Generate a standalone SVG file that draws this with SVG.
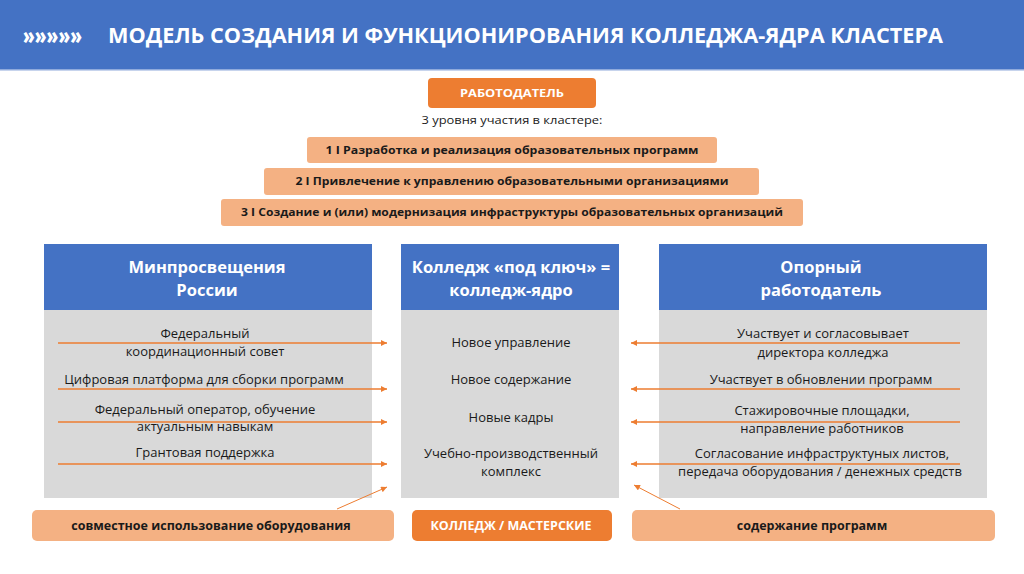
<svg xmlns="http://www.w3.org/2000/svg" width="1024" height="574" viewBox="0 0 1024 574">
<style>
.t{font-family:"Open Sans","Noto Sans","DejaVu Sans",sans-serif;}
.body{font-family:"Open Sans","Noto Sans","DejaVu Sans",sans-serif;font-size:13px;fill:#1a1a1a;text-anchor:middle;}
.hdr{font-family:"Open Sans","Noto Sans","DejaVu Sans",sans-serif;font-size:16.5px;font-weight:700;fill:#ffffff;text-anchor:middle;}
.lvl{font-family:"Open Sans","Noto Sans","DejaVu Sans",sans-serif;font-size:11px;font-weight:700;fill:#1a1a1a;text-anchor:middle;}
.bot{font-family:"Open Sans","Noto Sans","DejaVu Sans",sans-serif;font-size:12.5px;font-weight:700;fill:#1a1a1a;text-anchor:middle;}
.blue{fill:#4472C4;}
.gray{fill:#D9D9D9;}
.org{fill:#ED7D31;}
.lorg{fill:#F4B183;}
.arr{stroke:#ED7D31;stroke-width:1.3;fill:none;marker-end:url(#ah);}
.arrd{stroke:#ED7D31;stroke-width:1;fill:none;marker-end:url(#ah);}
</style>
<defs>
<marker id="ah" viewBox="0 0 10 10" refX="10" refY="5" markerWidth="7" markerHeight="6" markerUnits="userSpaceOnUse" orient="auto">
<path d="M0,0 L10,5 L0,10 z" fill="#ED7D31"/>
</marker>
</defs>
<rect width="1024" height="574" fill="#ffffff"/>
<g id="header">
<rect x="0" y="0" width="1024" height="70" class="blue"/>
<rect x="0" y="69" width="1024" height="1.5" fill="#8FAADC"/>
<text x="23" y="44" class="t" font-size="22" font-weight="800" fill="#ffffff" textLength="59" lengthAdjust="spacingAndGlyphs">»»»»»</text>
<text x="108" y="43" class="t" font-size="21" font-weight="700" fill="#ffffff" textLength="835" lengthAdjust="spacingAndGlyphs">МОДЕЛЬ СОЗДАНИЯ И ФУНКЦИОНИРОВАНИЯ КОЛЛЕДЖА-ЯДРА КЛАСТЕРА</text>
</g>
<g id="employer">
<rect x="428" y="78" width="168" height="30" rx="4" class="org"/>
<text x="512" y="97" class="t" font-size="11" font-weight="700" fill="#ffffff" text-anchor="middle" textLength="104" lengthAdjust="spacingAndGlyphs">РАБОТОДАТЕЛЬ</text>
</g>
<text x="512" y="124" class="t" font-size="11.5" fill="#1a1a1a" text-anchor="middle" textLength="181" lengthAdjust="spacingAndGlyphs">3 уровня участия в кластере:</text>
<g id="level1">
<rect x="307" y="137" width="410" height="26" rx="3" class="lorg"/>
<text x="512" y="154" class="lvl" textLength="373" lengthAdjust="spacingAndGlyphs">1 I  Разработка и реализация образовательных программ</text>
</g>
<g id="level2">
<rect x="264" y="168" width="495" height="27" rx="3" class="lorg"/>
<text x="512" y="185" class="lvl" textLength="433" lengthAdjust="spacingAndGlyphs">2 I Привлечение к управлению образовательными организациями</text>
</g>
<g id="level3">
<rect x="221" y="199" width="582" height="27" rx="3" class="lorg"/>
<text x="512" y="216" class="lvl" textLength="542" lengthAdjust="spacingAndGlyphs">3 I Создание и (или) модернизация инфраструктуры образовательных организаций</text>
</g>
<g id="ministry">
<rect x="44" y="244" width="328" height="66" class="blue"/>
<rect x="44" y="310" width="328" height="188" class="gray"/>
<text x="207" y="273" class="hdr">Минпросвещения</text>
<text x="207" y="296" class="hdr">России</text>
<text x="205" y="338" class="body">Федеральный</text>
<text x="205" y="356" class="body">координационный совет</text>
<text x="204" y="384" class="body">Цифровая платформа для сборки программ</text>
<text x="205" y="414" class="body">Федеральный оператор, обучение</text>
<text x="205" y="431" class="body">актуальным навыкам</text>
<text x="205" y="457" class="body">Грантовая поддержка</text>
</g>
<g id="college">
<rect x="401" y="244" width="218" height="66" class="blue"/>
<rect x="401" y="310" width="218" height="188" class="gray"/>
<text x="511" y="273" class="hdr">Колледж «под ключ» =</text>
<text x="511" y="296" class="hdr">колледж-ядро</text>
<text x="511" y="347" class="body">Новое управление</text>
<text x="511" y="384" class="body">Новое содержание</text>
<text x="511" y="422" class="body">Новые кадры</text>
<text x="511" y="458" class="body">Учебно-производственный</text>
<text x="511" y="476" class="body">комплекс</text>
</g>
<g id="partner">
<rect x="659" y="244" width="328" height="66" class="blue"/>
<rect x="659" y="310" width="328" height="188" class="gray"/>
<text x="821" y="273" class="hdr">Опорный</text>
<text x="821" y="296" class="hdr">работодатель</text>
<text x="823" y="338" class="body">Участвует и согласовывает</text>
<text x="823" y="357" class="body">директора колледжа</text>
<text x="821" y="384" class="body">Участвует в обновлении программ</text>
<text x="822" y="415" class="body">Стажировочные площадки,</text>
<text x="822" y="433" class="body">направление работников</text>
<text x="822" y="458" class="body">Согласование инфраструктуных листов,</text>
<text x="820" y="476" class="body">передача оборудования / денежных средств</text>
</g>
<g id="shared-equipment">
<rect x="32" y="510" width="362" height="31" rx="5" class="lorg"/>
<text x="211" y="530" class="bot">совместное использование оборудования</text>
</g>
<g id="workshops">
<rect x="412" y="510" width="200" height="31" rx="5" class="org"/>
<text x="511" y="530" class="bot" style="fill:#ffffff">КОЛЛЕДЖ / МАСТЕРСКИЕ</text>
</g>
<g id="program-content">
<rect x="632" y="510" width="363" height="31" rx="5" class="lorg"/>
<text x="812" y="530" class="bot">содержание программ</text>
</g>
<g id="connectors">
<line x1="58" y1="343" x2="387" y2="343" class="arr"/>
<line x1="58" y1="389" x2="387" y2="389" class="arr"/>
<line x1="58" y1="422" x2="387" y2="422" class="arr"/>
<line x1="58" y1="464" x2="387" y2="464" class="arr"/>
<line x1="337" y1="509" x2="387" y2="487" class="arrd"/>
<line x1="960" y1="343" x2="631" y2="343" class="arr"/>
<line x1="960" y1="389" x2="631" y2="389" class="arr"/>
<line x1="960" y1="422" x2="631" y2="422" class="arr"/>
<line x1="960" y1="464" x2="631" y2="464" class="arr"/>
<line x1="680" y1="509" x2="634" y2="485" class="arrd"/>
</g>
</svg>
